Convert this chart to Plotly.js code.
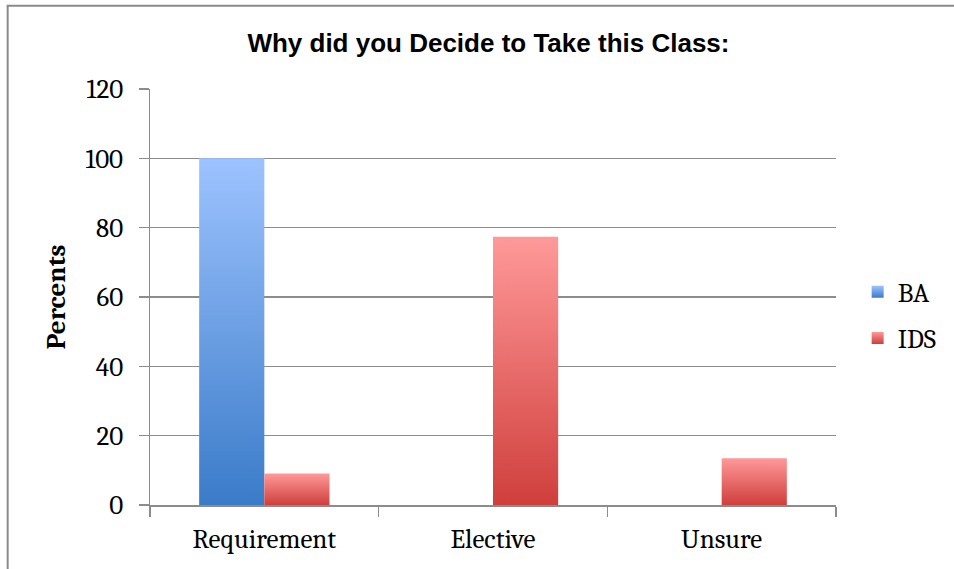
<!DOCTYPE html>
<html>
<head>
<meta charset="utf-8">
<script src="https://cdn.plot.ly/plotly-3.0.1.min.js"></script>
<style>html,body{margin:0;padding:0;background:#fff;}#chart{width:954px;height:569px;}</style>
</head>
<body>
<div id="chart"></div>
<script>
const categories = ["Requirement", "Elective", "Unsure"];
const seriesNames = ["BA", "IDS"];
const baValues = [100, 0, 0];
const idsValues = [9.1, 77.4, 13.5];
const yTicks = [0, 20, 40, 60, 80, 100, 120];

const serif = "Cambria, 'DejaVu Serif', 'Liberation Serif', serif";

const traces = [
  {type: "bar", name: seriesNames[0], x: categories, y: baValues,
   marker: {color: "#6a9fe6", line: {width: 0}}, legendgroup: "a"},
  {type: "bar", name: seriesNames[1], x: categories, y: idsValues,
   marker: {color: "#e87070", line: {width: 0}}, legendgroup: "b"}
];

const layout = {
  width: 954, height: 569,
  margin: {l: 150, r: 118, t: 89, b: 64},
  paper_bgcolor: "#fff", plot_bgcolor: "#fff",
  barmode: "group", bargap: 0.43, bargroupgap: 0,
  title: {text: "Why did you Decide to Take this Class:", x: 0.512, xanchor: "center", y: 0.925, yanchor: "middle",
          font: {family: "'Liberation Sans', Arial, sans-serif", size: 26, color: "#000", weight: "bold"}},
  xaxis: {type: "category", showline: true, linecolor: "#8c8c8c", linewidth: 1.5,
          ticks: "outside", tickson: "boundaries", ticklen: 10, tickcolor: "#8c8c8c", tickwidth: 1.5,
          tickfont: {family: serif, size: 27, color: "#000"}, showgrid: false, zeroline: false,
          ticklabelstandoff: 9},
  yaxis: {range: [0, 120], tickvals: yTicks, ticktext: yTicks.map(String),
          showline: true, linecolor: "#8c8c8c", linewidth: 1.5,
          ticks: "outside", ticklen: 10, tickcolor: "#8c8c8c", tickwidth: 1.5,
          gridcolor: "#8c8c8c", gridwidth: 1.2, zeroline: false,
          tickfont: {family: serif, size: 27, color: "#000"}, ticklabelstandoff: 10,
          title: {text: "<b>Percents</b>", standoff: 12, font: {family: serif, size: 27, color: "#000"}}},
  showlegend: true,
  legend: {xref: "container", yref: "container", x: 0.899, xanchor: "left", y: 0.446, yanchor: "middle",
           traceorder: "grouped", tracegroupgap: 8,
           font: {family: serif, size: 27, color: "#000"}, itemwidth: 30, bgcolor: "rgba(0,0,0,0)"},
  shapes: [{type: "rect", xref: "paper", yref: "paper", x0: -0.2075, x1: 1.25, y0: -0.3, y1: 1.2,
            line: {color: "#8a8a8a", width: 2}, fillcolor: "rgba(0,0,0,0)", layer: "below"}]
};

Plotly.newPlot("chart", traces, layout, {displayModeBar: false, staticPlot: true}).then(function(gd) {
  const svg = gd.querySelector("svg.main-svg");
  const ns = "http://www.w3.org/2000/svg";
  let defs = svg.querySelector("defs");
  function addGrad(id, top, bottom) {
    const g = document.createElementNS(ns, "linearGradient");
    g.setAttribute("id", id);
    g.setAttribute("x1", "0"); g.setAttribute("y1", "0");
    g.setAttribute("x2", "0"); g.setAttribute("y2", "1");
    [[0, top], [1, bottom]].forEach(function(s) {
      const st = document.createElementNS(ns, "stop");
      st.setAttribute("offset", s[0]);
      st.setAttribute("stop-color", s[1]);
      g.appendChild(st);
    });
    defs.appendChild(g);
  }
  addGrad("gradBA", "#9dc3ff", "#3a7bc8");
  addGrad("gradIDS", "#ff9999", "#cf3f3c");
  const ids = ["gradBA", "gradIDS"];
  gd.querySelectorAll(".barlayer .trace").forEach(function(t, i) {
    t.querySelectorAll("path").forEach(function(p) { p.style.fill = "url(#" + ids[i] + ")"; });
  });
  gd.querySelectorAll(".legend .traces").forEach(function(t, i) {
    t.querySelectorAll(".legendpoints path").forEach(function(p) { p.style.fill = "url(#" + ids[i] + ")"; });
  });
});
</script>
</body>
</html>
